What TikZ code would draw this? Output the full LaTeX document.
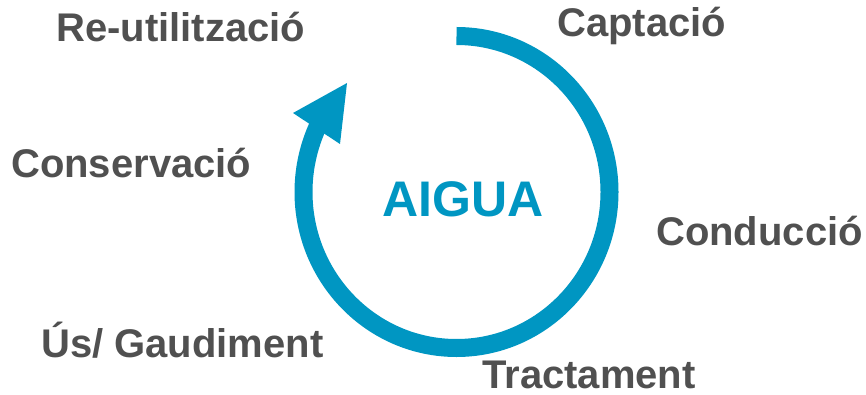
\documentclass[tikz,border=0pt]{standalone}
\usepackage{fontspec}
\setmainfont{Liberation Sans}
\definecolor{aiguablue}{RGB}{0,150,194}
\definecolor{labelgray}{RGB}{80,80,80}
\begin{document}
\begin{tikzpicture}[x=1pt,y=1pt,
  lbl/.style={anchor=base west,inner sep=0pt,text=labelgray,font=\fontsize{40}{40}\selectfont\bfseries},
  cyclearc/.style={draw=aiguablue,line width=18pt,line cap=butt}]
\useasboundingbox (0,0) rectangle (866,394);
% cycle arrow
\coordinate (c) at (456.5,202);
\draw[cyclearc] ([shift={(90:153 and 156)}]c) arc[start angle=90,end angle=-208,x radius=153,y radius=156];
\coordinate (tip) at (347,311);
\coordinate (wl) at (293,281);
\coordinate (wr) at (340,250);
\fill[aiguablue] (tip) -- (wl) -- (wr) -- cycle;
% centre text
\node[anchor=base west,inner sep=0pt,text=aiguablue,font=\fontsize{50}{50}\selectfont\bfseries] (aigua) at (382,178) {AIGUA};
% labels
\node[lbl] (reut) at (56,352) {Re-utilització};
\node[lbl] (capt) at (557,357) {Captació};
\node[lbl] (cons) at (11,217) {Conservació};
\node[lbl] (cond) at (656,149) {Conducció};
\node[lbl] (us) at (41,37) {Ús/ Gaudiment};
\node[lbl] (tract) at (482,6) {Tractament};
\end{tikzpicture}
\end{document}
